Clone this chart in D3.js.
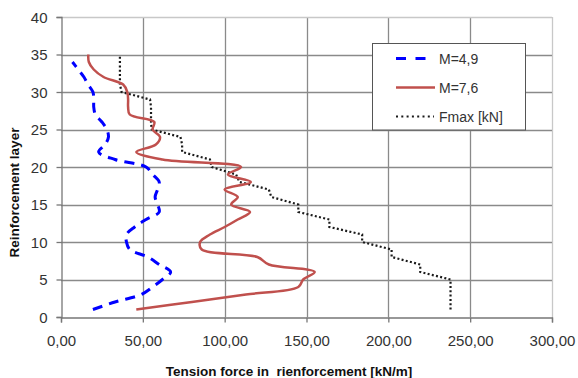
<!DOCTYPE html>
<html>
<head>
<meta charset="utf-8">
<script src="https://cdn.jsdelivr.net/npm/d3@7"></script>
<style>
  html, body { margin: 0; padding: 0; background: #fff; }
  svg { display: block; }
  text { font-family: "Liberation Sans", Arial, sans-serif; }
</style>
</head>
<body>
<svg id="chart" width="578" height="378"></svg>
<script>
// ---- data ----
const xTicks = [0, 50, 100, 150, 200, 250, 300];
const xTickLabels = ["0,00", "50,00", "100,00", "150,00", "200,00", "250,00", "300,00"];
const yTicks = [0, 5, 10, 15, 20, 25, 30, 35, 40];

const layersBlue = [1,2,3,4,5,6,7,8,9,10,11,12,13,14,15,16,17,18,19,20,21,22,23,24,25,26,27,28,29,30,31,32,33,34];
const m49 = [19.5, 33, 49, 56, 62, 67, 60, 53, 42, 40, 40, 45, 52, 60, 59, 57.5, 59, 60, 56, 52,
             33, 23, 27, 29, 28, 25, 21, 20, 20, 19.5, 16.5, 14, 10.5, 7];

const layersRed = [1,2,3,4,5,6,7,8,9,10,11,12,13,14,15,16,17,18,19,20,21,22,23,24,25,26,27,28,29,30,31,32,33,34,35];
const m76 = [46, 80, 113, 145, 148, 155, 127, 120, 86, 85, 91, 100, 108, 115.5, 104, 108, 100, 116, 102, 110,
             62, 46, 58, 60.5, 56, 57, 42, 41, 41, 40.5, 38, 26, 20, 17, 16.7];

const layersFmax = [1,2,3,4,5,6,7,8,9,10,11,12,13,14,15,16,17,18,19,20,21,22,23,24,25,26,27,28,29,30,31,32,33,34,35];
const fmax = [238, 238, 238, 238, 238, 219.5, 219.5, 202, 202, 184, 184, 164, 164, 145, 145, 128.5, 127, 109, 107, 92,
              91, 74, 74, 73, 55.4, 55, 55, 55, 54.4, 37, 36, 36, 36, 36, 36];

const seriesNames = ["M=4,9", "M=7,6", "Fmax [kN]"];

// ---- layout ----
const svg = d3.select("#chart");
const L = 61, R = 552, T = 17, B = 317;
const x = d3.scaleLinear().domain([0, 300]).range([L, R]);
const y = d3.scaleLinear().domain([0, 40]).range([B, T]);

// grid
const g = svg.append("g");
g.selectAll("line.vg").data(xTicks.slice(1)).enter().append("line")
  .attr("x1", d => Math.round(x(d)) + 0.5).attr("x2", d => Math.round(x(d)) + 0.5)
  .attr("y1", T).attr("y2", B)
  .attr("stroke", d => d === 300 ? "#c8c8c8" : "#8a8a8a").attr("stroke-width", 1.3);
g.selectAll("line.hg").data(yTicks.slice(1)).enter().append("line")
  .attr("x1", L).attr("x2", R)
  .attr("y1", d => Math.round(y(d)) + 0.5).attr("y2", d => Math.round(y(d)) + 0.5)
  .attr("stroke", d => d === 40 ? "#c8c8c8" : "#8a8a8a").attr("stroke-width", 1.3);

// axes
const xAxis = d3.axisBottom(x).tickValues(xTicks).tickSize(5).tickFormat((d, i) => xTickLabels[i]);
const yAxis = d3.axisLeft(y).tickValues(yTicks).tickSize(5).tickFormat(d3.format("d"));

const gx = svg.append("g").attr("transform", `translate(0,${Math.round(B) + 0.5})`).call(xAxis);
const gy = svg.append("g").attr("transform", `translate(${Math.round(L) + 0.5},0)`).call(yAxis);
[gx, gy].forEach(a => {
  a.select(".domain").attr("stroke", "#777").attr("stroke-width", 1.3);
  a.selectAll(".tick line").attr("stroke", "#777").attr("stroke-width", 1.3);
  a.selectAll(".tick text").attr("fill", "#333").attr("font-size", "15px")
    .attr("font-family", "'Liberation Sans', Arial, sans-serif");
});
gx.selectAll(".tick text").attr("y", 0).attr("dy", null).attr("transform", "translate(0,28)");
gy.selectAll(".tick text").attr("x", -14).attr("dy", "0.35em");

// titles
svg.append("text").attr("x", 289).attr("y", 375.5).attr("text-anchor", "middle")
  .attr("font-size", "13.5px").attr("font-weight", "bold").attr("fill", "#111")
  .text("Tension force in  rienforcement [kN/m]").style("white-space", "pre");
svg.append("text").attr("transform", "translate(19,192.5) rotate(-90)").attr("text-anchor", "middle")
  .attr("font-size", "13.5px").attr("font-weight", "bold").attr("fill", "#111")
  .text("Reinforcement layer");

// series
const smooth = d3.line().x(d => x(d[1])).y(d => y(d[0])).curve(d3.curveCatmullRom.alpha(0.5));
const straight = d3.line().x(d => x(d[1])).y(d => y(d[0]));

svg.append("path").datum(layersFmax.map((l, i) => [l, fmax[i]]))
  .attr("d", straight).attr("fill", "none").attr("stroke", "#1a1a1a")
  .attr("stroke-width", 2.2).attr("stroke-dasharray", "2,2.3");

svg.append("path").datum(layersRed.map((l, i) => [l, m76[i]]))
  .attr("d", smooth).attr("fill", "none").attr("stroke", "#c0504d")
  .attr("stroke-width", 2.5);

svg.append("path").datum(layersBlue.map((l, i) => [l, m49[i]]))
  .attr("d", smooth).attr("fill", "none").attr("stroke", "#0000ff")
  .attr("stroke-width", 3).attr("stroke-dasharray", "10,7");

// legend
const lg = svg.append("g");
lg.append("rect").attr("x", 372.5).attr("y", 43.5).attr("width", 153).attr("height", 86.5)
  .attr("fill", "#fff").attr("stroke", "#555").attr("stroke-width", 1);
const legY = [58.5, 87.5, 116.5];
const legStyle = [
  {stroke: "#0000ff", w: 3, dash: "10,9.5", x2: 427},
  {stroke: "#c0504d", w: 2.5, dash: null, x2: 435},
  {stroke: "#1a1a1a", w: 2.2, dash: "2,3.3", x2: 434}
];
seriesNames.forEach((name, i) => {
  const ln = lg.append("line").attr("x1", 396).attr("x2", legStyle[i].x2)
    .attr("y1", legY[i]).attr("y2", legY[i])
    .attr("stroke", legStyle[i].stroke).attr("stroke-width", legStyle[i].w);
  if (legStyle[i].dash) ln.attr("stroke-dasharray", legStyle[i].dash);
  lg.append("text").attr("x", 439).attr("y", legY[i] + 5.5).attr("font-size", "14px")
    .attr("fill", "#333").text(name);
});
</script>
</body>
</html>
